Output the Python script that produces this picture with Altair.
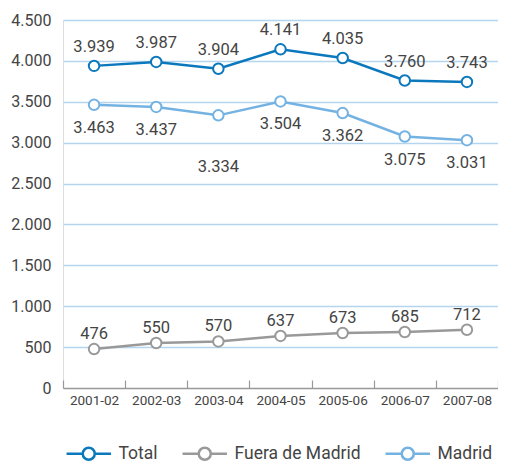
import altair as alt
import pandas as pd

years = ["2001-02", "2002-03", "2003-04", "2004-05", "2005-06", "2006-07", "2007-08"]
total = [3939, 3987, 3904, 4141, 4035, 3760, 3743]
fuera = [476, 550, 570, 637, 673, 685, 712]
madrid = [3463, 3437, 3334, 3504, 3362, 3075, 3031]

series_names = ["Total", "Fuera de Madrid", "Madrid"]
series_colors = ["#0b78bd", "#999999", "#74b2e2"]

rows = []
for name, vals in zip(series_names, [total, fuera, madrid]):
    for y, v in zip(years, vals):
        rows.append({"year": y, "serie": name, "value": v,
                     "label": f"{v:,}".replace(",", ".")})
df = pd.DataFrame(rows)

FONT = "Roboto"
TXT = "#444444"

x = alt.X("year:N", title=None, sort=years,
          scale=alt.Scale(type="band", paddingInner=0, paddingOuter=0),
          axis=alt.Axis(tickBand="extent", labelAngle=0, domain=False, offset=-8,
                        tickColor="#999999", tickSize=8, tickWidth=1.2,
                        labelFontSize=13.5, labelColor=TXT, labelPadding=5, grid=False))
y = alt.Y("value:Q", title=None,
          scale=alt.Scale(domain=[0, 4500], nice=False),
          axis=alt.Axis(values=list(range(0, 4501, 500)), domain=False, ticks=False,
                        gridColor={"condition": {"test": "datum.value === 0", "value": "#999999"},
                                   "value": "#b5d5ee"},
                        gridWidth=1.3, labelFontSize=16,
                        labelColor=TXT, labelPadding=12,
                        labelExpr="replace(format(datum.value, ','), ',', '.')"))
color = alt.Color("serie:N", title=None,
                  scale=alt.Scale(domain=series_names, range=series_colors),
                  legend=alt.Legend(orient="none", direction="horizontal",
                                    legendX=17, legendY=425, gridAlign="none",
                                    symbolType="M-1,0 A1,1 0 1,1 1,0 A1,1 0 1,1 -1,0 M-3.7,0 L-1,0 M1,0 L3.7,0",
                                    symbolSize=144, symbolStrokeWidth=2.5,
                                    symbolFillColor="white",
                                    labelFontSize=17.5, labelColor=TXT, labelOffset=21,
                                    columnPadding=19, labelFont=FONT))

base = alt.Chart(df)
lines = base.mark_line(strokeWidth=2.5).encode(x=x, y=y, color=color)
points = base.mark_point(filled=False, fill="white", fillOpacity=1, size=110,
                         strokeWidth=2, opacity=1).encode(
    x=x, y=y, color=alt.Color("serie:N", scale=alt.Scale(domain=series_names, range=series_colors), legend=None))

def labels(name, dy, extra_filter=None):
    c = base.transform_filter(alt.datum.serie == name)
    if extra_filter is not None:
        c = c.transform_filter(extra_filter)
    return c.mark_text(fontSize=16.5, color=TXT, dy=dy, font=FONT).encode(
        x=alt.X("year:N", sort=years), y="value:Q", text="label:N")

t_total = labels("Total", -19)
t_fuera = labels("Fuera de Madrid", -15)
t_madrid = labels("Madrid", 23, alt.datum.year != "2003-04")
t_madrid2 = labels("Madrid", 52, alt.datum.year == "2003-04")

chart = alt.layer(lines, points, t_total, t_fuera, t_madrid, t_madrid2).properties(
    width=435, height=368,
    autosize=alt.AutoSizeParams(type="none"),
    padding={"left": 55, "top": 12, "right": 0, "bottom": 74},
).configure_view(stroke=None).configure(font=FONT)

chart.save("out.html", embed_options={"renderer": "svg", "actions": False})
